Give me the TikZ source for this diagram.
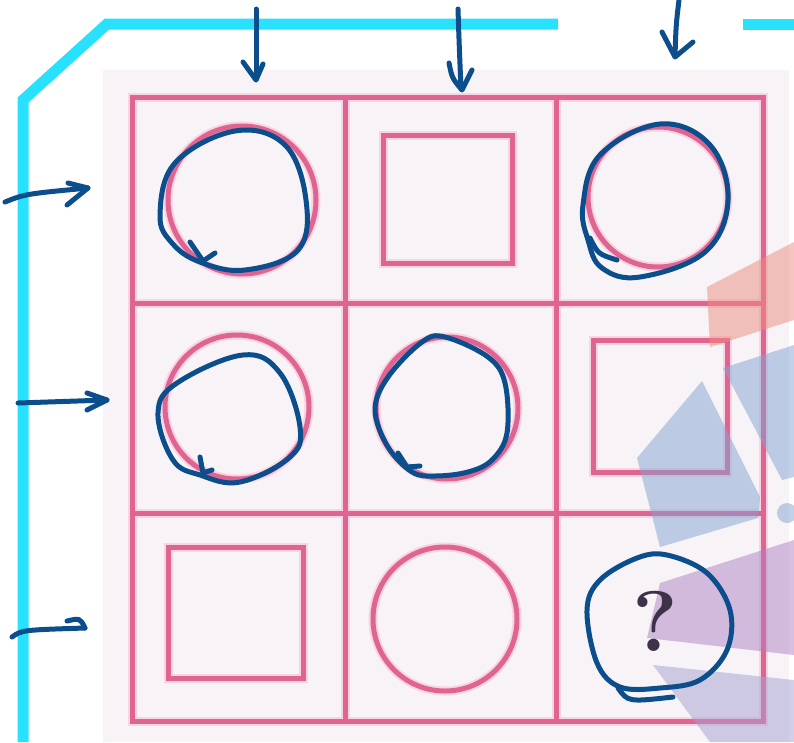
\documentclass[tikz,border=0pt]{standalone}
\definecolor{cyanl}{RGB}{40,225,255}
\definecolor{pinkl}{RGB}{224,100,146}
\definecolor{pinkglow}{RGB}{249,212,226}
\definecolor{ink}{RGB}{12,78,140}
\definecolor{bgg}{RGB}{247,243,246}
\definecolor{wsalmon}{RGB}{236,140,128}
\definecolor{wblue}{RGB}{130,165,210}
\definecolor{wpurple}{RGB}{175,130,195}
\definecolor{wlav}{RGB}{165,160,210}
\definecolor{qcol}{RGB}{62,50,72}
\begin{document}
\begin{tikzpicture}[x=1pt,y=-1pt,
  cyanbar/.style={draw=cyanl,line width=11pt},
  glow/.style={draw=pinkglow,line width=9pt},
  pinkline/.style={draw=pinkl,line width=5pt},
  inkline/.style={draw=ink,line width=5pt,line cap=round,line join=round},
  wm/.style={fill opacity=0.5}]
\useasboundingbox (0,0) rectangle (794,742);
\fill[white] (0,0) rectangle (794,742);
% cyan frame
\draw[cyanbar] (23,742) -- (23,100) -- (107,24) -- (558,24);
\draw[cyanbar] (743,24) -- (800,24);
% light sheet
\fill[bgg] (103,70) rectangle (789,742);
% pink grid and shapes (glow first)
\foreach \sty in {glow,pinkline}{
  \draw[\sty] (132,97) rectangle (763,721);
  \draw[\sty] (345,97) -- (345,721);
  \draw[\sty] (556,97) -- (556,721);
  \draw[\sty] (132,303) -- (763,303);
  \draw[\sty] (132,513) -- (763,513);
  \draw[\sty] (242,200) circle[radius=74];
  \draw[\sty] (383,135) rectangle (512,263);
  \draw[\sty] (658,197) circle[radius=70];
  \draw[\sty] (237,407) circle[radius=72];
  \draw[\sty] (447,408) circle[radius=71];
  \draw[\sty] (593,340) rectangle (727,472);
  \draw[\sty] (168,547) rectangle (303,678);
  \draw[\sty] (445,619) circle[radius=72];
}
% watermark shapes
\fill[wsalmon,wm] (707,287) -- (794,242) -- (794,320) -- (710,347) -- cycle;
\fill[wblue,wm] (723,368) -- (794,345) -- (794,477) -- (782,480) -- cycle;
\fill[wblue,wm] (702,381) -- (637,458) -- (660,547) -- (758,518) -- (760,497) -- cycle;
\fill[wblue,wm] (787,513) circle[radius=10];
\fill[wpurple,wm] (660,583) -- (794,540) -- (794,655) -- (647,638) -- cycle;
\fill[wlav,wm] (653,665) -- (794,680) -- (794,742) -- (710,742) -- cycle;
% question mark
\node[text=qcol,inner sep=0pt] (q) at (655,621) {\fontsize{86}{86}\selectfont\bfseries ?};
% top arrows
\draw[inkline] (256,9) -- (256,79);
\draw[inkline] (243,62) -- (256,80) -- (263,64);
\draw[inkline] (458,9) .. controls (459,40) .. (461,89);
\draw[inkline] (449,63) .. controls (452,78) .. (462,90) -- (472,70);
\draw[inkline] (679,0) .. controls (676,25) .. (675,56);
\draw[inkline] (662,32) -- (675,57) -- (693,42);
% left arrows
\draw[inkline] (5,202) .. controls (25,194) .. (88,188);
\draw[inkline] (68,183) -- (88,188) -- (67,205);
\draw[inkline] (18,403) -- (107,400);
\draw[inkline] (87,393) -- (107,400) -- (87,410);
\draw[inkline] (12,637) .. controls (22,630) .. (85,628);
\draw[inkline] (67,621) .. controls (80,618) .. (85,628);
% blue hand-drawn loops
\draw[inkline] plot[smooth cycle,tension=0.65] coordinates {(160,215) (175,163) (235,131) (285,145) (306,200) (298,250) (245,270) (200,262) (172,243)};
\draw[inkline] (190,242) -- (203,261) -- (215,253);
\draw[inkline] plot[smooth cycle,tension=0.65] coordinates {(583,205) (600,155) (660,124) (710,145) (728,200) (705,252) (640,277) (602,268) (588,240)};
\draw[inkline] (590,238) .. controls (598,254) .. (617,260);
\draw[inkline] plot[smooth cycle,tension=0.65] coordinates {(158,413) (177,383) (243,355) (280,373) (300,427) (290,457) (240,482) (200,475) (173,460)};
\draw[inkline] (200,457) -- (203,473) -- (212,470);
\draw[inkline] plot[smooth cycle,tension=0.6] coordinates {(375,410) (388,377) (422,342) (445,337) (488,357) (505,383) (507,433) (492,460) (468,472) (435,476) (412,472) (388,447)};
\draw[inkline] (398,453) -- (407,467) -- (420,466);
\draw[inkline] plot[smooth cycle,tension=0.6] coordinates {(587,610) (600,580) (637,558) (667,555) (707,573) (730,610) (727,650) (700,680) (660,688) (620,687) (597,663)};
\draw[inkline] (618,688) .. controls (628,702) .. (673,697);
\end{tikzpicture}
\end{document}
